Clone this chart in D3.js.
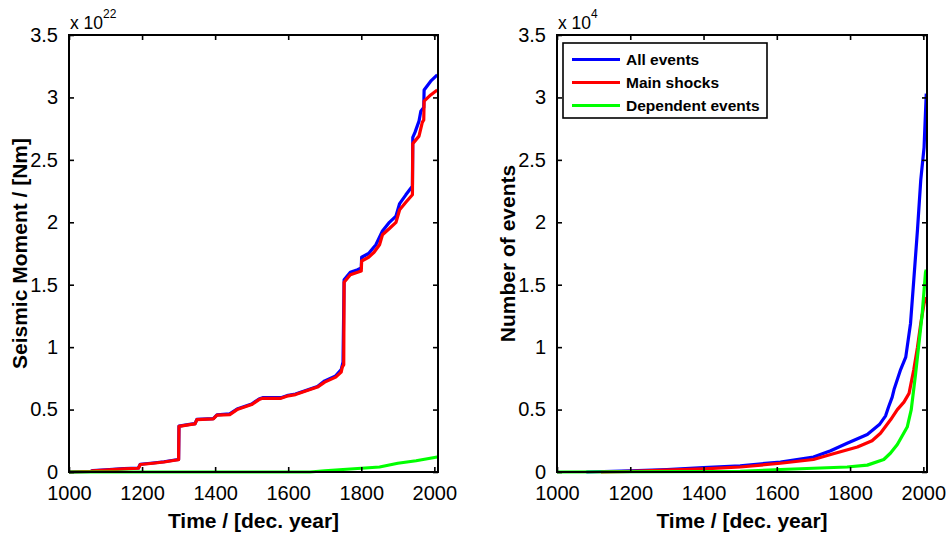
<!DOCTYPE html>
<html>
<head>
<meta charset="utf-8">
<script src="https://cdn.jsdelivr.net/npm/d3@7"></script>
<style>
  html, body { margin: 0; padding: 0; background: #fff; }
  svg { display: block; font-family: Arial, "Liberation Sans", Helvetica, sans-serif; }
</style>
</head>
<body>
<svg id="fig" width="948" height="537"></svg>
<script>
// Cumulative seismic moment (x 10^22 Nm), [year, value]
const momentAll = [[1000,0],[1060,0.005],[1065,0.012],[1100,0.017],[1150,0.027],[1190,0.032],[1195,0.062],[1230,0.072],[1260,0.082],[1290,0.096],[1300,0.1],[1301,0.368],[1330,0.382],[1345,0.388],[1350,0.422],[1395,0.428],[1405,0.458],[1440,0.465],[1460,0.505],[1480,0.525],[1500,0.545],[1520,0.585],[1530,0.595],[1580,0.595],[1600,0.615],[1620,0.625],[1650,0.655],[1680,0.685],[1700,0.73],[1730,0.77],[1745,0.82],[1750,0.88],[1753,1.54],[1770,1.6],[1790,1.62],[1800,1.635],[1801,1.72],[1820,1.75],[1840,1.82],[1858,1.93],[1877,2.0],[1895,2.05],[1905,2.15],[1922,2.22],[1935,2.27],[1940,2.29],[1941,2.68],[1947,2.72],[1958,2.81],[1963,2.89],[1971,2.92],[1972,3.06],[1990,3.13],[2008,3.18]];
const momentMain = [[1000,0],[1060,0.005],[1065,0.01],[1100,0.015],[1150,0.025],[1190,0.03],[1195,0.06],[1230,0.07],[1260,0.08],[1290,0.094],[1300,0.098],[1301,0.365],[1330,0.38],[1345,0.385],[1350,0.42],[1395,0.425],[1405,0.455],[1440,0.46],[1460,0.5],[1480,0.52],[1500,0.54],[1520,0.58],[1530,0.59],[1580,0.59],[1600,0.61],[1620,0.62],[1650,0.65],[1680,0.68],[1700,0.72],[1730,0.76],[1745,0.8],[1748,0.84],[1752,0.86],[1753,1.52],[1770,1.58],[1790,1.6],[1800,1.61],[1801,1.69],[1820,1.72],[1835,1.76],[1850,1.82],[1858,1.9],[1877,1.95],[1895,2.0],[1905,2.1],[1922,2.16],[1940,2.22],[1941,2.63],[1958,2.69],[1967,2.8],[1971,2.82],[1972,2.97],[1990,3.02],[2008,3.06]];
const momentDependent = [[1000,0],[1660,0],[1700,0.01],[1750,0.02],[1800,0.03],[1850,0.04],[1900,0.07],[1950,0.09],[2008,0.12]];

// Cumulative number of events (x 10^4), [year, value]
const countAll = [[1080,0],[1200,0.01],[1300,0.02],[1400,0.035],[1500,0.05],[1610,0.08],[1700,0.12],[1747,0.17],[1792,0.23],[1847,0.3],[1880,0.38],[1897,0.45],[1905,0.52],[1915,0.6],[1920,0.66],[1938,0.82],[1952,0.92],[1965,1.19],[1974,1.54],[1984,1.94],[1993,2.34],[2002,2.6],[2008,3.03]];
const countMain = [[1120,0],[1200,0.005],[1300,0.015],[1400,0.025],[1500,0.04],[1610,0.07],[1700,0.1],[1747,0.14],[1820,0.2],[1860,0.25],[1883,0.31],[1911,0.42],[1929,0.5],[1947,0.56],[1961,0.63],[1974,0.82],[1984,1.0],[1993,1.19],[2002,1.35],[2008,1.4]];
const countDependent = [[1000,0],[1500,0.005],[1610,0.02],[1700,0.03],[1792,0.04],[1847,0.055],[1892,0.1],[1910,0.15],[1929,0.22],[1956,0.36],[1967,0.5],[1979,0.79],[1988,1.03],[1997,1.27],[2006,1.6],[2008,1.62]];

const xTicks = [1000, 1200, 1400, 1600, 1800, 2000];
const yTicks = [0, 0.5, 1, 1.5, 2, 2.5, 3, 3.5];
const seriesNames = ["All events", "Main shocks", "Dependent events"];
const seriesColors = ["#0000ff", "#ff0000", "#00ff00"];

const svg = d3.select("#fig");

function panel(opts) {
  const x = d3.scaleLinear().domain([1000, 2010]).range([opts.left, opts.right]);
  const y = d3.scaleLinear().domain([0, 3.5]).range([472, 35]);
  const g = svg.append("g");

  // curves
  const line = d3.line().x(d => x(d[0])).y(d => y(d[1]));
  opts.series.forEach((s, i) => {
    g.append("path").datum(s)
      .attr("d", line)
      .attr("fill", "none")
      .attr("stroke", seriesColors[i])
      .attr("stroke-width", 3.2)
      .attr("stroke-linejoin", "round");
  });

  // axes with inward ticks on all four sides
  const fmt = d => String(d);
  g.append("g").attr("transform", `translate(0,${y(0)})`)
    .call(d3.axisBottom(x).tickValues(xTicks).tickSizeInner(-5).tickSizeOuter(0).tickPadding(14).tickFormat(fmt));
  g.append("g").attr("transform", `translate(0,${y(3.5)})`)
    .call(d3.axisTop(x).tickValues(xTicks).tickSizeInner(-5).tickSizeOuter(0).tickFormat(""));
  g.append("g").attr("transform", `translate(${opts.left},0)`)
    .call(d3.axisLeft(y).tickValues(yTicks).tickSizeInner(-5).tickSizeOuter(0).tickPadding(11).tickFormat(fmt));
  g.append("g").attr("transform", `translate(${opts.right},0)`)
    .call(d3.axisRight(y).tickValues(yTicks).tickSizeInner(-5).tickSizeOuter(0).tickFormat(""));

  g.selectAll(".domain").remove();
  g.selectAll(".tick line").attr("stroke", "#000").attr("stroke-width", 1.6);
  g.selectAll(".tick text").attr("font-size", 20).attr("fill", "#000")
    .attr("font-family", "Arial, 'Liberation Sans', sans-serif");

  // box
  g.append("rect")
    .attr("x", opts.left).attr("y", y(3.5))
    .attr("width", opts.right - opts.left).attr("height", y(0) - y(3.5))
    .attr("fill", "none").attr("stroke", "#000").attr("stroke-width", 2);

  // exponent
  const ex = g.append("text").attr("x", opts.left + 1).attr("y", 29)
    .attr("font-size", 17.5).attr("fill", "#000");
  ex.append("tspan").text("x 10");
  ex.append("tspan").attr("dy", -11).attr("font-size", 12).text(opts.exponent);

  // axis titles
  g.append("text").attr("x", (opts.left + opts.right) / 2).attr("y", 528)
    .attr("text-anchor", "middle").attr("font-size", 21).attr("font-weight", "bold")
    .text("Time / [dec. year]");
  g.append("text")
    .attr("transform", `translate(${opts.ylabelX},${(y(0) + y(3.5)) / 2}) rotate(-90)`)
    .attr("text-anchor", "middle").attr("font-size", 21).attr("font-weight", "bold")
    .text(opts.ylabel);
  return { g, x, y };
}

panel({ left: 69, right: 438, series: [momentAll, momentMain, momentDependent],
        exponent: "22", ylabel: "Seismic Moment / [Nm]", ylabelX: 27 });
const right = panel({ left: 557, right: 927, series: [countAll, countMain, countDependent],
        exponent: "4", ylabel: "Number of events", ylabelX: 515 });

// legend
const lg = right.g.append("g");
lg.append("rect").attr("x", 563).attr("y", 43).attr("width", 204).attr("height", 75)
  .attr("fill", "#fff").attr("stroke", "#000").attr("stroke-width", 1.6);
seriesNames.forEach((name, i) => {
  const yy = 59.5 + i * 23;
  lg.append("line").attr("x1", 572).attr("x2", 620).attr("y1", yy).attr("y2", yy)
    .attr("stroke", seriesColors[i]).attr("stroke-width", 3);
  lg.append("text").attr("x", 626).attr("y", yy + 5.5)
    .attr("font-size", 15.5).attr("font-weight", "bold").attr("fill", "#000").text(name);
});
</script>
</body>
</html>
